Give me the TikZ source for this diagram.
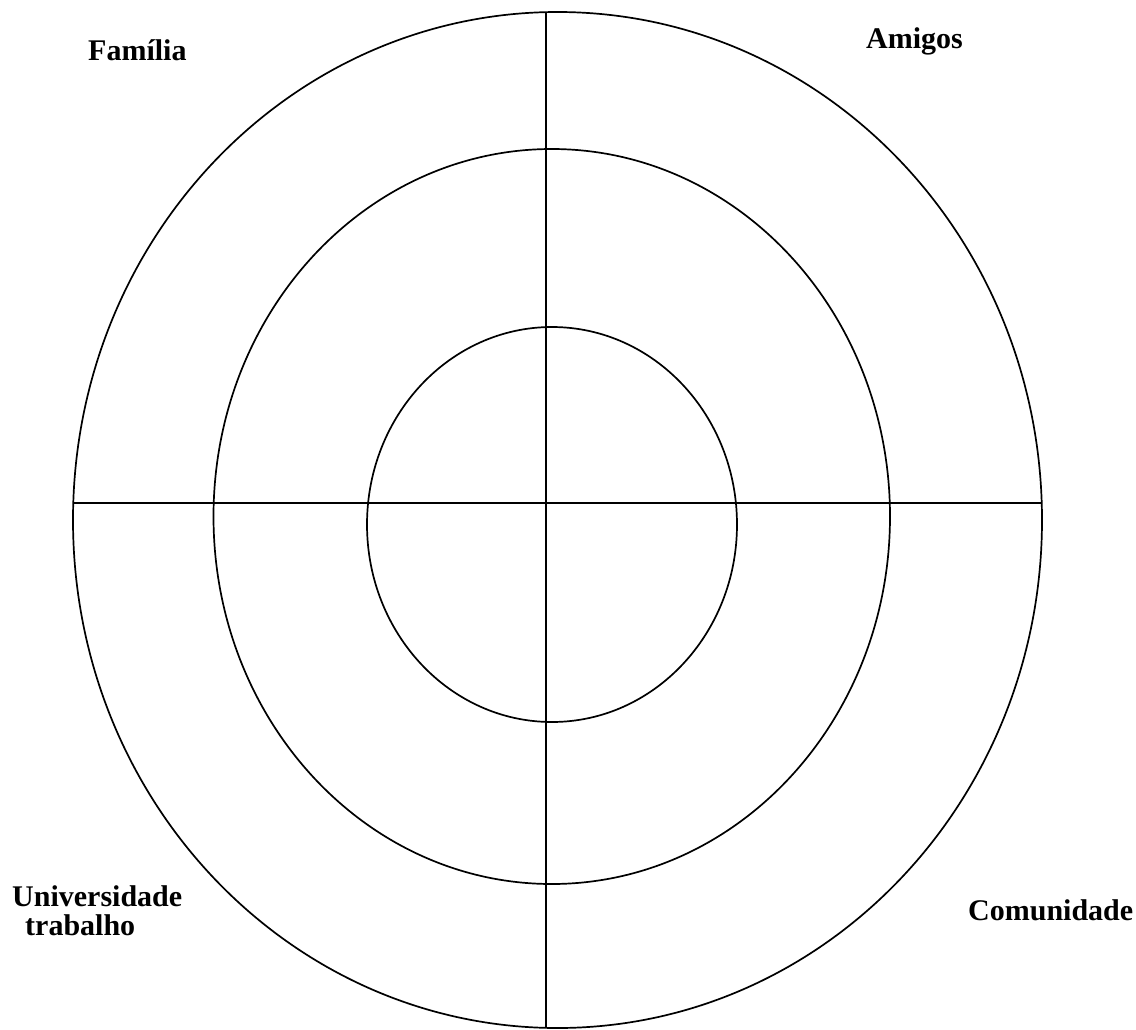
\documentclass[tikz,border=0pt]{standalone}
\usepackage{fontspec}
\setmainfont{Liberation Serif}
\begin{document}
\begin{tikzpicture}[x=1pt,y=-1pt,
  ring/.style={draw=black,line width=1.7pt},
  axis/.style={draw=black,line width=1.7pt},
  lbl/.style={anchor=base west,inner sep=0pt,font=\fontsize{30}{34}\selectfont\bfseries}]
\useasboundingbox (0,0) rectangle (1136,1029);
\draw[ring] (557.5,520) ellipse [x radius=484.5,y radius=508];
\draw[ring] (551.75,516.5) ellipse [x radius=338.25,y radius=367.5];
\draw[ring] (552,524.5) ellipse [x radius=185,y radius=197.5];
\coordinate (top) at (546,12);
\coordinate (bot) at (546,1028);
\coordinate (lft) at (73.5,503);
\coordinate (rgt) at (1042,503);
\draw[axis] (top) -- (bot);
\draw[axis] (lft) -- (rgt);
\node[lbl] (familia) at (88,60) {Família};
\node[lbl] (amigos) at (866,48) {Amigos};
\node[lbl] (univ) at (12,906) {Universidade};
\node[lbl] (trab) at (25,935) {trabalho};
\node[lbl] (comun) at (968,920) {Comunidade};
\end{tikzpicture}
\end{document}
